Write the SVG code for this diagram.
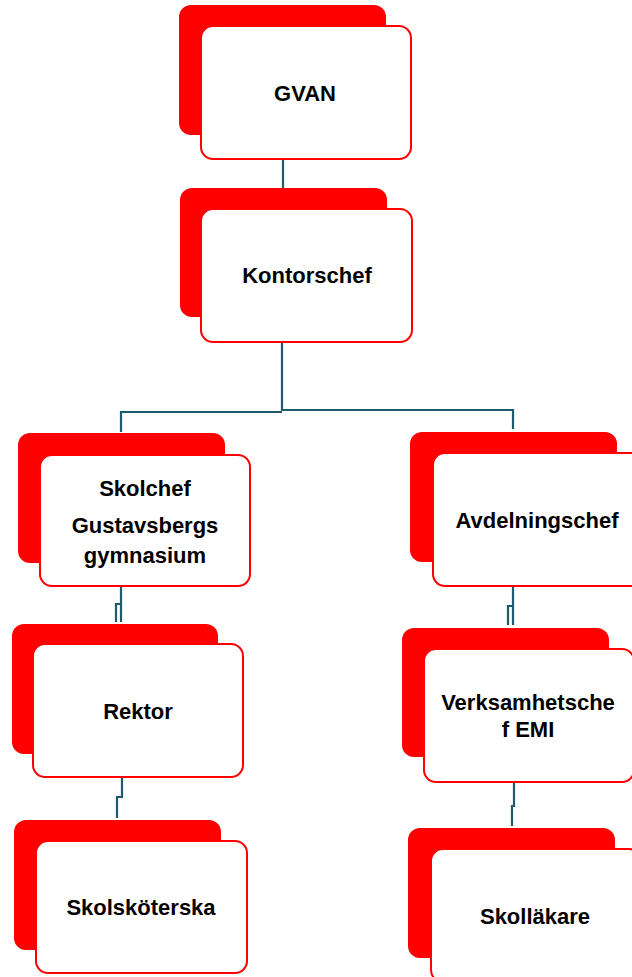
<svg xmlns="http://www.w3.org/2000/svg" width="632" height="977" viewBox="0 0 632 977">
<style>
.back{fill:#ff0000;}
.front{fill:#ffffff;stroke:#ff0000;stroke-width:2;}
.lbl{font-family:"Liberation Sans",Arial,sans-serif;font-weight:bold;font-size:22px;fill:#000000;text-anchor:middle;}
.conn{fill:none;stroke:#1d5a6c;stroke-width:2.2;}
</style>
<rect width="632" height="977" fill="#ffffff"/>
<g id="connectors">
<path class="conn" d="M283,160 V188"/>
<path class="conn" d="M282,342 V411 M282,412 H121 V432 M282,410 H513 V429"/>
<path class="conn" d="M121,587 V604 H116 V622 M121,604 V622"/>
<path class="conn" d="M513,587 V606 H508 V625 M513,606 V625"/>
<path class="conn" d="M122,778 V797 H117 V818"/>
<path class="conn" d="M514,782 V806 H512 V826"/>
</g>
<g id="node-gvan">
<rect class="back" x="179" y="5" width="207" height="130" rx="12"/>
<rect class="front" x="201" y="26" width="210" height="133" rx="12"/>
<text class="lbl" x="305" y="101">GVAN</text>
</g>
<g id="node-kontorschef">
<rect class="back" x="180" y="188" width="207" height="129" rx="12"/>
<rect class="front" x="201" y="209" width="211" height="133" rx="12"/>
<text class="lbl" x="307" y="283">Kontorschef</text>
</g>
<g id="node-skolchef">
<rect class="back" x="18" y="433" width="207" height="130" rx="12"/>
<rect class="front" x="40" y="455" width="210" height="131" rx="12"/>
<text class="lbl" x="145" y="496">Skolchef</text>
<text class="lbl" x="145" y="533">Gustavsbergs</text>
<text class="lbl" x="145" y="563">gymnasium</text>
</g>
<g id="node-avdelningschef">
<rect class="back" x="410" y="432" width="207" height="130" rx="12"/>
<rect class="front" x="433" y="453" width="210" height="133" rx="12"/>
<text class="lbl" x="537" y="528">Avdelningschef</text>
</g>
<g id="node-rektor">
<rect class="back" x="12" y="624" width="206" height="130" rx="12"/>
<rect class="front" x="33" y="644" width="210" height="133" rx="12"/>
<text class="lbl" x="138" y="719">Rektor</text>
</g>
<g id="node-verksamhetschef">
<rect class="back" x="402" y="628" width="207" height="129" rx="12"/>
<rect class="front" x="424" y="649" width="210" height="133" rx="12"/>
<text class="lbl" x="528" y="710">Verksamhetsche</text>
<text class="lbl" x="528" y="737">f EMI</text>
</g>
<g id="node-skolskoterska">
<rect class="back" x="14" y="820" width="207" height="130" rx="12"/>
<rect class="front" x="36" y="841" width="211" height="132" rx="12"/>
<text class="lbl" x="141" y="915">Skolsköterska</text>
</g>
<g id="node-skollakare">
<rect class="back" x="408" y="828" width="207" height="130" rx="12"/>
<rect class="front" x="431" y="849" width="210" height="133" rx="12"/>
<text class="lbl" x="535" y="924">Skolläkare</text>
</g>
</svg>
